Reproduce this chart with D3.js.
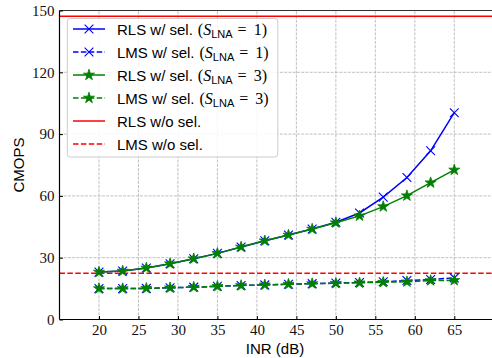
<!DOCTYPE html>
<html><head><meta charset="utf-8">
<script src="https://cdn.jsdelivr.net/npm/d3@7"></script>
<style>body{margin:0;background:#fff}</style>
</head><body><svg id="c" width="492" height="358"></svg>
<script>
const inr = [20,23,26,29,32,35,38,41,44,47,50,53,56,59,62,65];
const rlsS1 = [23.0,23.5,25.0,27.1,29.5,32.1,35.2,38.2,41.0,43.9,47.2,51.7,59.4,68.9,81.9,100.4];
const lmsS1 = [15.0,15.0,15.1,15.4,15.7,16.1,16.5,16.8,17.1,17.4,17.7,18.0,18.3,18.9,19.4,20.2];
const rlsS3 = [23.0,23.5,25.0,27.1,29.5,32.1,35.2,38.2,41.0,43.9,47.0,50.3,54.8,60.1,66.4,72.6];
const lmsS3 = [15.0,15.0,15.1,15.4,15.7,16.1,16.5,16.8,17.1,17.4,17.6,17.8,18.1,18.3,18.9,19.0];
const rlsNoSel = 147.2;
const lmsNoSel = 22.5;
const xTicks = [20,25,30,35,40,45,50,55,60,65];
const yTicks = [0,30,60,90,120,150];
const legendLabels = [
  {name:"RLS w/ sel.", s:"1"},
  {name:"LMS w/ sel.", s:"1"},
  {name:"RLS w/ sel.", s:"3"},
  {name:"LMS w/ sel.", s:"3"},
  {name:"RLS w/o sel.", s:null},
  {name:"LMS w/o sel.", s:null}
];

const svg = d3.select("#c");
const x = d3.scaleLinear().domain([15,70]).range([59.5, 59.5+55*7.896]);
const y = d3.scaleLinear().domain([0,150]).range([319.5,10.5]);
const serif = "'Liberation Serif', 'DejaVu Serif', serif";
const sans = "'Liberation Sans', Arial, sans-serif";

// grid
const g = svg.append("g");
g.selectAll(".gx").data(xTicks).join("line")
  .attr("x1",d=>x(d)).attr("x2",d=>x(d)).attr("y1",y(0)).attr("y2",y(150))
  .attr("stroke","#b0b0b0").attr("stroke-width",0.8).attr("stroke-dasharray","2.96,1.28");
g.selectAll(".gy").data(yTicks.filter(d=>d>0&&d<150)).join("line")
  .attr("x1",x(15)).attr("x2",x(70)).attr("y1",d=>y(d)).attr("y2",d=>y(d))
  .attr("stroke","#b0b0b0").attr("stroke-width",0.8).attr("stroke-dasharray","2.96,1.28");

// reference lines
svg.append("line").attr("x1",x(15)).attr("x2",x(70)).attr("y1",y(rlsNoSel)).attr("y2",y(rlsNoSel))
  .attr("stroke","red").attr("stroke-width",1.5);
svg.append("line").attr("x1",x(15)).attr("x2",x(70)).attr("y1",y(lmsNoSel)).attr("y2",y(lmsNoSel))
  .attr("stroke","red").attr("stroke-width",1.5).attr("stroke-dasharray","5.5,2.4");

const line = d3.line().x((d,i)=>x(inr[i])).y(d=>y(d));
const star = d3.symbol().type(d3.symbolStar).size(38);
function xMark(sel, cx, cy, r, color){
  sel.append("path").attr("d",`M${cx-r},${cy-r}L${cx+r},${cy+r}M${cx-r},${cy+r}L${cx+r},${cy-r}`)
    .attr("stroke",color).attr("stroke-width",1.1).attr("fill","none");
}
function series(vals,color,dashed,marker){
  const p = svg.append("path").attr("d",line(vals)).attr("fill","none")
    .attr("stroke",color).attr("stroke-width",1.5);
  if(dashed) p.attr("stroke-dasharray","5.5,2.4");
  const mg = svg.append("g");
  vals.forEach((v,i)=>{
    if(marker==="x") xMark(mg,x(inr[i]),y(v),4.4,color);
    else mg.append("path").attr("d",star()).attr("transform",`translate(${x(inr[i])},${y(v)})`).attr("fill",color).attr("stroke",color).attr("stroke-width",0.8);
  });
}
series(rlsS1,"#0000ff",false,"x");
series(lmsS1,"#0000ff",true,"x");
series(rlsS3,"#008000",false,"star");
series(lmsS3,"#008000",true,"star");

// axes frame
svg.append("line").attr("x1",x(15)).attr("x2",x(15)).attr("y1",y(0)).attr("y2",y(150)).attr("stroke","#000").attr("stroke-width",1.2);
svg.append("line").attr("x1",x(15)).attr("x2",x(70)).attr("y1",y(0)).attr("y2",y(0)).attr("stroke","#000").attr("stroke-width",1.2);
svg.append("line").attr("x1",x(15)).attr("x2",x(70)).attr("y1",y(150)).attr("y2",y(150)).attr("stroke","#333").attr("stroke-width",1.2);
svg.append("line").attr("x1",x(70)).attr("x2",x(70)).attr("y1",y(0)).attr("y2",y(150)).attr("stroke","#000").attr("stroke-width",1.2);

// ticks
const xa = svg.append("g").attr("transform",`translate(0,${y(0)})`)
  .call(d3.axisBottom(x).tickValues(xTicks).tickSizeInner(-3.5).tickSizeOuter(0).tickPadding(4.5));
xa.select(".domain").remove();
xa.selectAll("text").attr("font-family",serif).attr("font-size",15).attr("fill","#111");
const ya = svg.append("g").attr("transform",`translate(${x(15)},0)`)
  .call(d3.axisLeft(y).tickValues(yTicks).tickSizeInner(-3.5).tickSizeOuter(0).tickPadding(5));
ya.select(".domain").remove();
ya.selectAll("text").attr("font-family",serif).attr("font-size",15).attr("fill","#111");

// axis labels
svg.append("text").attr("x",275).attr("y",354).attr("text-anchor","middle")
  .attr("font-family",sans).attr("font-size",15).text("INR (dB)");
svg.append("text").attr("transform","translate(24,165) rotate(-90)").attr("text-anchor","middle")
  .attr("font-family",sans).attr("font-size",15).text("CMOPS");

// legend
const lg = svg.append("g");
lg.append("rect").attr("x",67.3).attr("y",18.5).attr("width",210.5).attr("height",138.5).attr("rx",3)
  .attr("fill","#fff").attr("fill-opacity",0.85).attr("stroke","#cccccc").attr("stroke-width",1);
const styles = [
  {c:"#0000ff",d:false,m:"x"},{c:"#0000ff",d:true,m:"x"},
  {c:"#008000",d:false,m:"star"},{c:"#008000",d:true,m:"star"},
  {c:"red",d:false,m:null},{c:"red",d:true,m:null}
];
legendLabels.forEach((L,i)=>{
  const cy = 29 + i*23;
  const st = styles[i];
  const ln = lg.append("line").attr("x1",73).attr("x2",105).attr("y1",cy).attr("y2",cy)
    .attr("stroke",st.c).attr("stroke-width",1.5);
  if(st.d) ln.attr("stroke-dasharray","5.5,2.4");
  if(st.m==="x") xMark(lg,89,cy,4.4,st.c);
  if(st.m==="star") lg.append("path").attr("d",star()).attr("transform",`translate(89,${cy})`).attr("fill",st.c).attr("stroke",st.c).attr("stroke-width",0.8);
  const t = lg.append("text").attr("x",117).attr("y",cy+5.5).attr("font-size",15).attr("font-family",sans);
  t.append("tspan").text(L.name);
  if(L.s){
    t.append("tspan").attr("font-family",serif).attr("font-size",16).attr("dx",5).text("(");
    t.append("tspan").attr("font-family",serif).attr("font-style","italic").attr("font-size",16).text("S");
    t.append("tspan").attr("font-family",sans).attr("font-size",11).attr("dy",3).text("LNA");
    t.append("tspan").attr("font-family",serif).attr("font-size",16).attr("dy",-3).attr("dx",5).text("= ");
    t.append("tspan").attr("font-family",serif).attr("font-size",16).attr("dx",3).text(L.s+")");
  }
});
</script></body></html>
